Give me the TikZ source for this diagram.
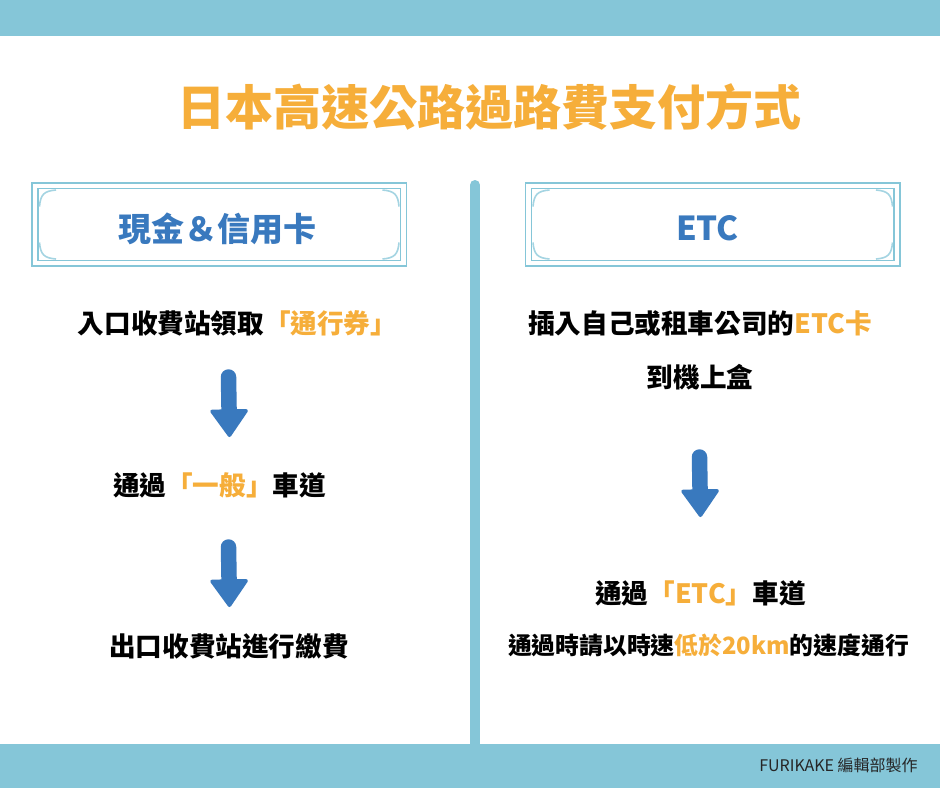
\documentclass[tikz,border=0pt]{standalone}
\usepackage{fontspec}
\setmainfont{Noto Sans CJK TC}
\usetikzlibrary{arrows.meta}
\definecolor{barcol}{HTML}{85C6D8}
\definecolor{titlecol}{HTML}{F6AE3A}
\definecolor{bluecol}{HTML}{3979BE}
\newcommand{\hl}[1]{{\color{titlecol}#1}}
% double frame with curved inner corners: x1, y1, x2, y2 of the inner frame
\newcommand{\dblframe}[4]{
  \draw[frameout] (#1-6,#2-5.5) rectangle (#3+6,#4+5.5);
  \draw[framein] (#1,#2) rectangle (#3,#4);
  \foreach \cx/\cy/\sx/\sy in {#1/#2/1/1,#3/#2/-1/1,#1/#4/1/-1,#3/#4/-1/-1}
    \draw[framecurve] (\cx+\sx*1.5,\cy+\sy*18) .. controls (\cx+\sx*2.5,\cy+\sy*6) and (\cx+\sx*6,\cy+\sy*2.5) .. (\cx+\sx*18,\cy+\sy*1.5);
}

\begin{document}
\begin{tikzpicture}[x=1pt,y=-1pt,>=Stealth]
  \tikzset{every node/.style={inner sep=0pt,outer sep=0pt},
    bar/.style={fill=barcol,draw=none},
    frameout/.style={draw=barcol,line width=1.5pt},
    framein/.style={draw=barcol,line width=1.5pt},
    framecurve/.style={draw=barcol!75,line width=1.6pt},
    maintitle/.style={text=titlecol,font=\fontsize{48}{56}\selectfont\bfseries},
    boxtitle/.style={text=bluecol,font=\fontsize{33}{40}\selectfont\bfseries},
    bodytext/.style={text=black,font=\fontsize{26.6}{32}\selectfont\bfseries},
    smalltext/.style={text=black,font=\fontsize{23.8}{30}\selectfont\bfseries},
    credit/.style={text=black!85,font=\fontsize{16}{20}\selectfont},
    blockarrow/.style={-{Triangle[length=29pt,width=40pt,line width=3.5pt,round]},draw=bluecol,fill=bluecol,line width=15.5pt,line cap=round}}
  \useasboundingbox (0,0) rectangle (940,788);
  \fill[white] (0,0) rectangle (940,788);
  % bars
  \fill[bar] (0,0) rectangle (940,36);
  \coordinate (divtop) at (475,185);
  \coordinate (divend) at (475,750);
  \draw[barcol,line width=10pt,line cap=round] (divtop) -- (divend);
  \fill[bar] (0,744) rectangle (940,788);
  \node[maintitle] (title) at (489.5,106.5) {日本高速公路過路費支付方式};
  % boxes
  \dblframe{38}{188.5}{400.5}{260.5}
  \dblframe{531.5}{188.5}{894}{260.5}
  \node[boxtitle] (cash) at (217,228.5) {現金＆信用卡};
  \node[boxtitle] (etc) at (707.5,228.5) {ETC};
  % left
  \node[bodytext] (l1) at (237.5,323) {入口收費站領取\hl{「通行券」}};
  \node[bodytext] (l2) at (219.5,485) {通過\hl{「一般」}車道};
  \node[bodytext] (l3) at (229,646) {出口收費站進行繳費};
  \coordinate (a1top) at (228.5,377);
  \coordinate (a1end) at (229.5,437);
  \coordinate (a2top) at (228.5,547);
  \coordinate (a2end) at (229.5,607);
  \draw[blockarrow] (a1top) -- (a1end);
  \draw[blockarrow] (a2top) -- (a2end);
  % right
  \node[bodytext] (r1) at (700,323) {插入自己或租車公司的\hl{ETC卡}};
  \node[bodytext] (r2) at (700,377) {到機上盒};
  \node[bodytext] (r3) at (700.5,593.5) {通過\hl{「ETC」}車道};
  \node[smalltext] (r4) at (708.5,645.5) {通過時請以時速\hl{低於20km}的速度通行};
  \coordinate (a3top) at (699.5,457);
  \coordinate (a3end) at (700.5,517);
  \draw[blockarrow] (a3top) -- (a3end);
  \node[credit] (note) at (838.5,765) {FURIKAKE 編輯部製作};
\end{tikzpicture}
\end{document}
